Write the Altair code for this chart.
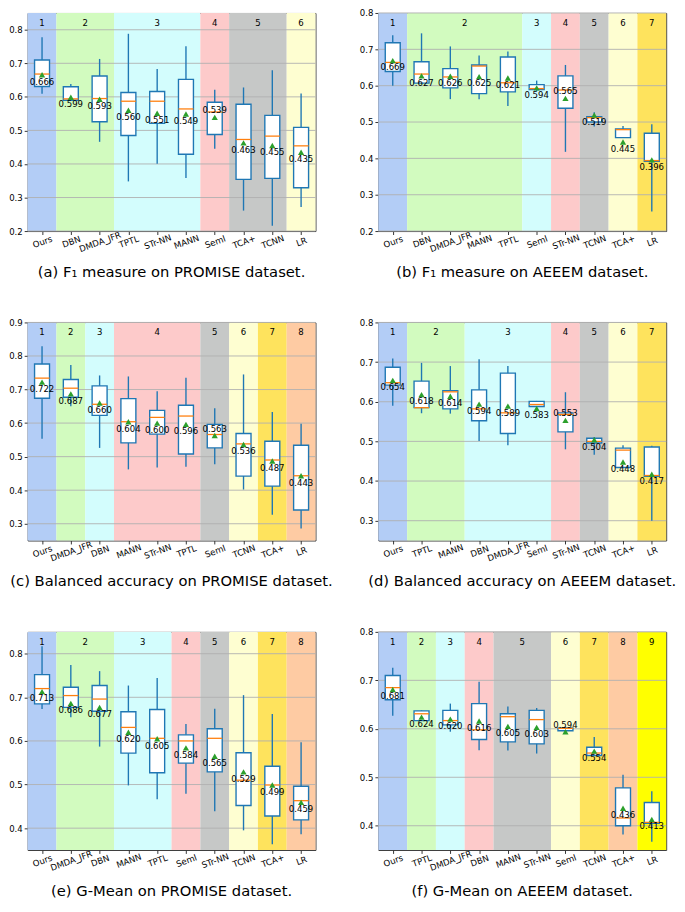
import altair as alt
import pandas as pd

FONT = "DejaVu Sans"
BLUE = "#1f77b4"
ORANGE = "#ff7f0e"
GREEN = "#2ca02c"
GROUP_COLORS = ["#b3cdf6", "#d2fbbf", "#d3fdfd", "#fdcaca", "#c6c8c7",
                "#fefed1", "#fee35d", "#fecba3", "#ffff00"]

W, H = 293, 222

# ---------------- (a) F1 on PROMISE ----------------
a_methods = ["Ours", "DBN", "DMDA_JFR", "TPTL", "STr-NN", "MANN", "Seml", "TCA+", "TCNN", "LR"]
a_groups = [1, 2, 2, 3, 3, 3, 4, 5, 5, 6]
a_low = [0.609, 0.588, 0.466, 0.348, 0.401, 0.358, 0.445, 0.261, 0.216, 0.272]
a_q1 = [0.631, 0.590, 0.526, 0.485, 0.521, 0.429, 0.488, 0.354, 0.357, 0.329]
a_med = [0.668, 0.594, 0.595, 0.587, 0.587, 0.564, 0.555, 0.473, 0.483, 0.454]
a_q3 = [0.710, 0.630, 0.662, 0.613, 0.616, 0.652, 0.584, 0.578, 0.545, 0.509]
a_high = [0.778, 0.638, 0.713, 0.788, 0.683, 0.751, 0.621, 0.628, 0.679, 0.610]
a_mean = [0.666, 0.599, 0.593, 0.560, 0.551, 0.549, 0.539, 0.463, 0.455, 0.435]
a_above = ["Seml"]

# ---------------- (b) F1 on AEEEM ----------------
b_methods = ["Ours", "DBN", "DMDA_JFR", "MANN", "TPTL", "Seml", "STr-NN", "TCNN", "TCA+", "LR"]
b_groups = [1, 2, 2, 2, 2, 3, 4, 5, 6, 7]
b_low = [0.600, 0.605, 0.563, 0.563, 0.544, 0.585, 0.418, 0.488, 0.457, 0.254]
b_q1 = [0.639, 0.607, 0.594, 0.578, 0.583, 0.589, 0.538, 0.500, 0.457, 0.392]
b_med = [0.664, 0.632, 0.624, 0.654, 0.608, 0.592, 0.588, 0.512, 0.479, 0.394]
b_q3 = [0.718, 0.666, 0.647, 0.657, 0.679, 0.603, 0.627, 0.515, 0.481, 0.469]
b_high = [0.739, 0.744, 0.708, 0.683, 0.694, 0.614, 0.657, 0.527, 0.489, 0.494]
b_mean = [0.669, 0.627, 0.626, 0.625, 0.621, 0.594, 0.565, 0.519, 0.445, 0.396]
b_above = ["STr-NN"]

# ---------------- (c) Balanced accuracy on PROMISE ----------------
c_methods = ["Ours", "DMDA_JFR", "DBN", "MANN", "STr-NN", "TPTL", "Seml", "TCNN", "TCA+", "LR"]
c_groups = [1, 2, 3, 4, 4, 4, 5, 6, 7, 8]
c_low = [0.553, 0.650, 0.526, 0.462, 0.468, 0.470, 0.477, 0.402, 0.327, 0.286]
c_q1 = [0.674, 0.677, 0.623, 0.541, 0.567, 0.508, 0.526, 0.442, 0.412, 0.341]
c_med = [0.734, 0.704, 0.656, 0.604, 0.617, 0.621, 0.566, 0.538, 0.490, 0.443]
c_q3 = [0.776, 0.730, 0.711, 0.673, 0.638, 0.653, 0.596, 0.569, 0.546, 0.534]
c_high = [0.829, 0.773, 0.742, 0.739, 0.695, 0.735, 0.644, 0.745, 0.633, 0.598]
c_mean = [0.722, 0.687, 0.660, 0.604, 0.600, 0.596, 0.563, 0.536, 0.487, 0.443]
c_above = ["Seml"]

# ---------------- (d) Balanced accuracy on AEEEM ----------------
d_methods = ["Ours", "TPTL", "MANN", "DBN", "DMDA_JFR", "Seml", "STr-NN", "TCNN", "TCA+", "LR"]
d_groups = [1, 2, 2, 3, 3, 3, 4, 5, 6, 7]
d_low = [0.590, 0.571, 0.570, 0.501, 0.490, 0.588, 0.480, 0.466, 0.434, 0.300]
d_q1 = [0.642, 0.585, 0.582, 0.552, 0.520, 0.588, 0.524, 0.496, 0.434, 0.412]
d_med = [0.648, 0.585, 0.625, 0.582, 0.572, 0.593, 0.568, 0.500, 0.478, 0.414]
d_q3 = [0.687, 0.652, 0.628, 0.630, 0.672, 0.601, 0.572, 0.508, 0.483, 0.486]
d_high = [0.709, 0.698, 0.690, 0.707, 0.690, 0.602, 0.624, 0.511, 0.490, 0.489]
d_mean = [0.654, 0.618, 0.614, 0.594, 0.589, 0.583, 0.553, 0.504, 0.448, 0.417]
d_above = ["STr-NN"]

# ---------------- (e) G-Mean on PROMISE ----------------
e_methods = ["Ours", "DMDA_JFR", "DBN", "MANN", "TPTL", "Seml", "STr-NN", "TCNN", "TCA+", "LR"]
e_groups = [1, 2, 2, 3, 3, 4, 5, 6, 7, 8]
e_low = [0.673, 0.654, 0.587, 0.498, 0.466, 0.479, 0.439, 0.395, 0.363, 0.386]
e_q1 = [0.685, 0.677, 0.668, 0.572, 0.527, 0.549, 0.529, 0.452, 0.428, 0.419]
e_med = [0.720, 0.704, 0.696, 0.631, 0.606, 0.600, 0.606, 0.510, 0.499, 0.463]
e_q3 = [0.752, 0.723, 0.727, 0.667, 0.672, 0.614, 0.628, 0.573, 0.542, 0.496]
e_high = [0.817, 0.774, 0.760, 0.727, 0.744, 0.639, 0.674, 0.705, 0.662, 0.597]
e_mean = [0.713, 0.686, 0.677, 0.620, 0.605, 0.584, 0.565, 0.529, 0.499, 0.459]
e_above = []

# ---------------- (f) G-Mean on AEEEM ----------------
f_methods = ["Ours", "TPTL", "DMDA_JFR", "DBN", "MANN", "STr-NN", "Seml", "TCNN", "TCA+", "LR"]
f_groups = [1, 2, 3, 4, 5, 5, 6, 7, 8, 9]
f_low = [0.627, 0.617, 0.594, 0.556, 0.555, 0.549, 0.596, 0.545, 0.382, 0.367]
f_q1 = [0.660, 0.617, 0.608, 0.578, 0.573, 0.569, 0.596, 0.545, 0.400, 0.405]
f_med = [0.685, 0.631, 0.617, 0.598, 0.625, 0.619, 0.601, 0.550, 0.416, 0.407]
f_q3 = [0.710, 0.637, 0.638, 0.652, 0.631, 0.638, 0.602, 0.562, 0.478, 0.448]
f_high = [0.726, 0.638, 0.652, 0.697, 0.646, 0.643, 0.604, 0.583, 0.505, 0.471]
f_mean = [0.681, 0.624, 0.620, 0.616, 0.605, 0.603, 0.594, 0.554, 0.436, 0.413]
f_above = ["Seml"]


def panel(methods, groups, low, q1, med, q3, high, mean, above, ydom, yticks, caption):
    n = len(methods)
    df = pd.DataFrame(dict(method=methods, grp=groups, low=low, q1=q1, med=med,
                           q3=q3, high=high, mean=mean))
    df["pos"] = list(range(n))
    df["xl"] = df["pos"] - 0.26
    df["xr"] = df["pos"] + 0.26
    df["above"] = df["method"].isin(above)

    gdf = df.groupby("grp").agg(start=("pos", "min"), end=("pos", "max")).reset_index()
    gdf["x0"] = gdf["start"] - 0.5
    gdf["x1"] = gdf["end"] + 0.5
    gdf["cx"] = (gdf["start"] + gdf["end"]) / 2
    gdf["color"] = [GROUP_COLORS[g - 1] for g in gdf["grp"]]
    gdf["label"] = gdf["grp"].astype(str)

    tdf = pd.DataFrame({"v": yticks})

    names = "[" + ",".join("'" + m + "'" for m in methods) + "]"
    xscale = alt.Scale(domain=[-0.5, n - 0.5], nice=False, zero=False)
    yscale = alt.Scale(domain=ydom, nice=False, zero=False)
    xaxis = alt.Axis(values=list(range(n)), labelExpr=names + "[datum.value]",
                     labelAngle=-20, labelAlign="center", labelBaseline="middle",
                     labelPadding=7, labelFlush=False, labelOverlap=False,
                     title=None, grid=False, domain=False, tickSize=3.5,
                     tickColor="#333", labelFont=FONT, labelFontSize=8.7,
                     labelColor="black")
    yaxis = alt.Axis(values=yticks, format=".1f", title=None, grid=False,
                     domain=False, tickSize=3.5, tickColor="#333",
                     labelFont=FONT, labelFontSize=8.7, labelColor="black",
                     labelPadding=2, labelFlush=False, labelOverlap=False)

    def X(f):
        return alt.X(f, scale=xscale, axis=xaxis)

    def Y(f):
        return alt.Y(f, scale=yscale, axis=yaxis)

    bands = alt.Chart(gdf).mark_rect().encode(
        x=X("x0:Q"), x2="x1:Q", y=alt.value(0), y2=alt.value(H),
        color=alt.Color("color:N", scale=None))
    grid = alt.Chart(tdf).mark_rule(color="#b0b0b0", strokeWidth=0.9).encode(y=Y("v:Q"))
    whisk = alt.Chart(df).mark_rule(color=BLUE, strokeWidth=1.4).encode(
        x=X("pos:Q"), y=Y("low:Q"), y2="high:Q")
    box = alt.Chart(df).mark_rect(fill="white", stroke=BLUE, strokeWidth=1.4).encode(
        x=X("xl:Q"), x2="xr:Q", y=Y("q1:Q"), y2="q3:Q")
    medl = alt.Chart(df).mark_rule(color=ORANGE, strokeWidth=1.3).encode(
        x=X("xl:Q"), x2="xr:Q", y=Y("med:Q"))
    meanp = alt.Chart(df).mark_point(shape="triangle-up", filled=True, color=GREEN,
                                     size=40, opacity=1).encode(x=X("pos:Q"), y=Y("mean:Q"))
    lab_b = alt.Chart(df).transform_filter("!datum.above").mark_text(
        font=FONT, fontSize=8.7, dy=7, baseline="middle", color="black").encode(
        x=X("pos:Q"), y=Y("mean:Q"), text=alt.Text("mean:Q", format=".3f"))
    lab_a = alt.Chart(df).transform_filter("datum.above").mark_text(
        font=FONT, fontSize=8.7, dy=-7, baseline="middle", color="black").encode(
        x=X("pos:Q"), y=Y("mean:Q"), text=alt.Text("mean:Q", format=".3f"))
    gnum = alt.Chart(gdf).mark_text(font=FONT, fontSize=8.7, baseline="middle",
                                    color="black").encode(
        x=X("cx:Q"), y=alt.value(10), text="label:N")

    return alt.layer(bands, grid, whisk, box, medl, meanp, lab_b, lab_a, gnum).properties(
        width=W, height=H,
        title=alt.TitleParams(caption, orient="bottom", anchor="middle", font=FONT,
                              fontSize=15, fontWeight="normal", color="black", offset=12))


pa = panel(a_methods, a_groups, a_low, a_q1, a_med, a_q3, a_high, a_mean, a_above,
           [0.2, 0.85], [0.2, 0.3, 0.4, 0.5, 0.6, 0.7, 0.8], "(a) F\u2081 measure on PROMISE dataset.")
pb = panel(b_methods, b_groups, b_low, b_q1, b_med, b_q3, b_high, b_mean, b_above,
           [0.2, 0.8], [0.2, 0.3, 0.4, 0.5, 0.6, 0.7, 0.8], "(b) F\u2081 measure on AEEEM dataset.")
pc = panel(c_methods, c_groups, c_low, c_q1, c_med, c_q3, c_high, c_mean, c_above,
           [0.25, 0.9], [0.3, 0.4, 0.5, 0.6, 0.7, 0.8, 0.9], "(c) Balanced accuracy on PROMISE dataset.")
pd_ = panel(d_methods, d_groups, d_low, d_q1, d_med, d_q3, d_high, d_mean, d_above,
            [0.25, 0.8], [0.3, 0.4, 0.5, 0.6, 0.7, 0.8], "(d) Balanced accuracy on AEEEM dataset.")
pe = panel(e_methods, e_groups, e_low, e_q1, e_med, e_q3, e_high, e_mean, e_above,
           [0.35, 0.85], [0.4, 0.5, 0.6, 0.7, 0.8], "(e) G-Mean on PROMISE dataset.")
pf = panel(f_methods, f_groups, f_low, f_q1, f_med, f_q3, f_high, f_mean, f_above,
           [0.35, 0.8], [0.4, 0.5, 0.6, 0.7, 0.8], "(f) G-Mean on AEEEM dataset.")

chart = alt.vconcat(
    alt.hconcat(pa, pb, spacing=64, bounds="flush"),
    alt.hconcat(pc, pd_, spacing=64, bounds="flush"),
    alt.hconcat(pe, pf, spacing=64, bounds="flush"),
    spacing=37,
).properties(
    padding={"top": -8, "left": 0, "right": 0, "bottom": 0}
).configure_view(stroke="#333", strokeWidth=1)

chart.save("out.html", embed_options={"renderer": "svg", "actions": False})
